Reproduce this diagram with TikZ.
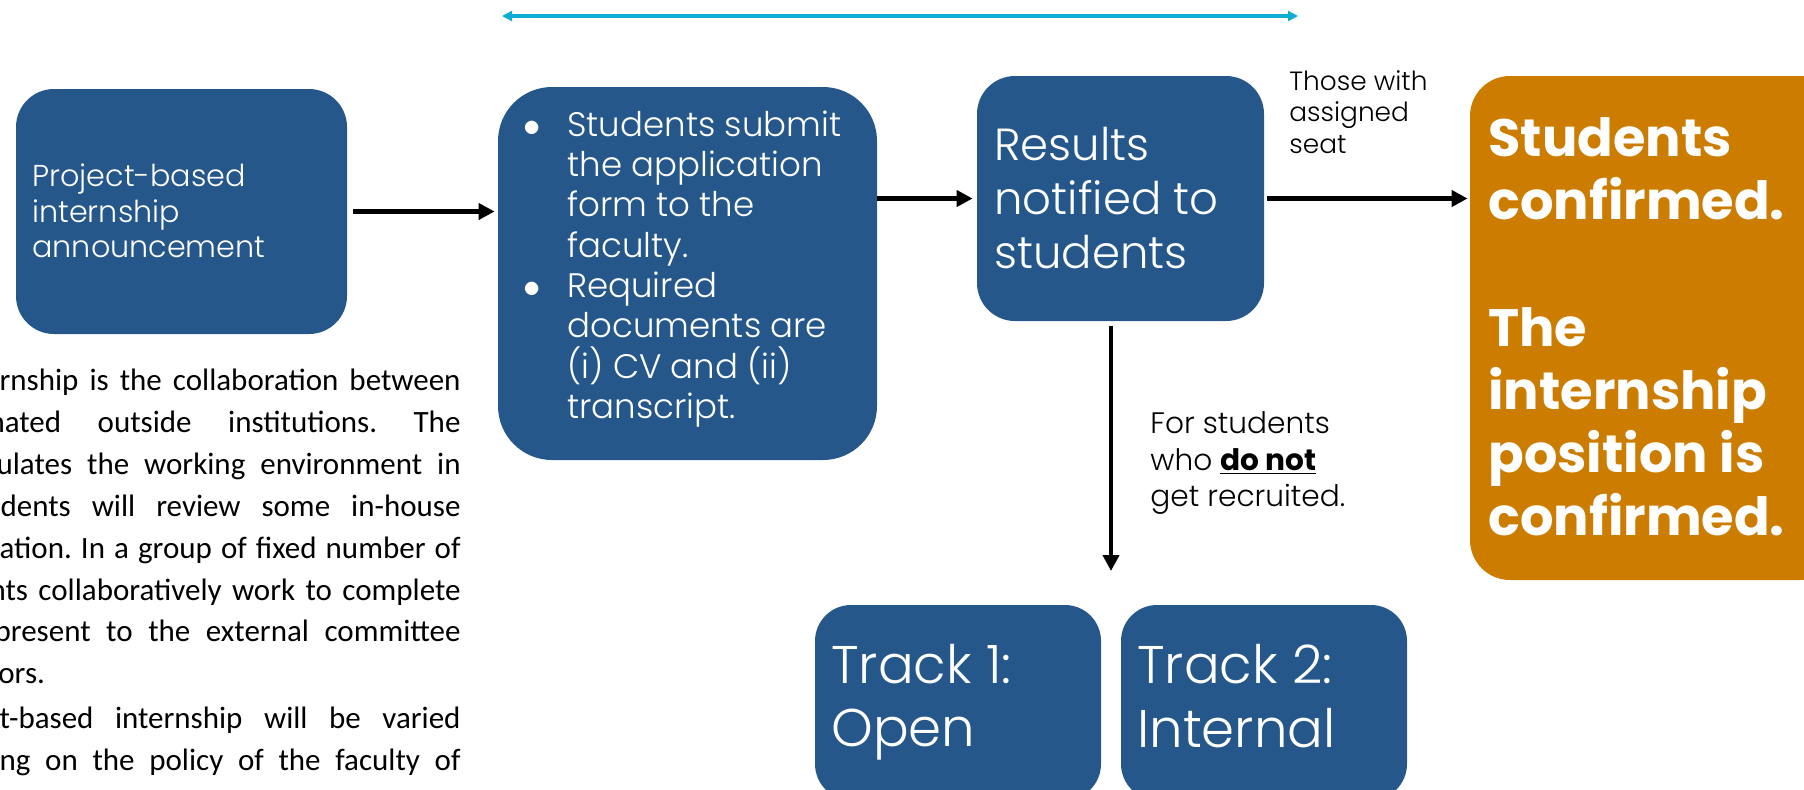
\documentclass[tikz,border=0pt]{standalone}
\usepackage{fontspec}
\setmainfont{Poppins}
\IfFontExistsTF{Poppins Light}{\newfontfamily\lightf{Poppins Light}}{\newfontfamily\lightf{Poppins}}
\newfontfamily\calf{Carlito}
\usetikzlibrary{arrows.meta,fit}
\definecolor{boxblue}{RGB}{37,87,139}
\definecolor{boxorange}{RGB}{204,125,0}
\definecolor{linecyan}{RGB}{14,174,212}
\frenchspacing
\begin{document}
\begin{tikzpicture}[x=0.5pt,y=-0.5pt,
  bluebox/.style={fill=boxblue, inner sep=0pt, draw=none},
  orangebox/.style={fill=boxorange, inner sep=0pt, draw=none},
  boxtext/.style={anchor=west, inner sep=0pt, align=left, text=white},
  flowarrow/.style={line width=2.1pt, -{Triangle[length=8pt,width=8pt]}},
  spanarrow/.style={draw=linecyan, line width=1.6pt, {Triangle[length=5pt,width=5pt]}-{Triangle[length=5pt,width=5pt]}},
  note/.style={anchor=west, inner sep=0pt, align=left, text=black},
  paraline/.style={inner sep=0pt, font=\calf\frenchspacing\fontsize{15.5}{21}\selectfont}
]
\useasboundingbox (0,0) rectangle (1804,789);

% boxes
\node[bluebox, rounded corners=19pt, fit={(16,89) (347,334)}] (b1) {};
\node[bluebox, rounded corners=27pt, fit={(498,87) (877,460)}] (b2) {};
\node[bluebox, rounded corners=19pt, fit={(977,76) (1264,321)}] (b3) {};
\node[orangebox, rounded corners=20pt, fit={(1470,76) (1840,580)}] (ob) {};
\node[bluebox, rounded corners=18pt, fit={(815,605) (1101,800)}] (k1) {};
\node[bluebox, rounded corners=18pt, fit={(1121,605) (1407,800)}] (k2) {};

% box texts
\node[boxtext, font=\lightf\fontsize{15.1}{17.85}\selectfont] (t1) at (32,211)
  {Project-based\\internship\\announcement};
\node[boxtext, font=\lightf\fontsize{17}{20.15}\selectfont] (t2) at (523,269)
  {\makebox[22pt][l]{$\bullet$}Students submit\\\hspace*{22pt}the application\\\hspace*{22pt}form to the\\\hspace*{22pt}faculty.\\
   \makebox[22pt][l]{$\bullet$}Required\\\hspace*{22pt}documents are\\\hspace*{22pt}(i) CV and (ii)\\\hspace*{22pt}transcript.};
\node[boxtext, font=\lightf\fontsize{22.5}{27}\selectfont] (t3) at (994,198)
  {Results\\notified to\\students};
\node[boxtext, font=\rmfamily\bfseries\fontsize{26.3}{31.6}\selectfont] (to) at (1488,327)
  {Students\\confirmed.\\\mbox{}\\The\\internship\\position is\\confirmed.};
\node[boxtext, font=\lightf\fontsize{26.5}{31.6}\selectfont] (tk1) at (831,702) {Track 1:\\Open};
\node[boxtext, font=\lightf\fontsize{26.5}{31.6}\selectfont] (tk2) at (1137,696) {Track 2:\\Internal};

% labels
\node[note, font=\lightf\fontsize{13.2}{15.8}\selectfont] (l3) at (1289,112)
  {Those with\\assigned\\seat};
\node[note, font=\lightf\fontsize{14.8}{18.1}\selectfont] (lv) at (1150,463)
  {For students\\who {\rmfamily\bfseries\underline{do not}}\\get recruited.};

% connectors
\coordinate (cl) at (502,16);
\coordinate (cr) at (1298,16);
\draw[spanarrow] (cl) -- (cr);
\draw[flowarrow, shorten <=3pt, shorten >=1.5pt] (b1.east) -- (b1.east -| b2.west);
\draw[flowarrow, shorten >=2pt] (b2.east |- b3.west) -- (b3.west);
\draw[flowarrow, shorten <=1.5pt, shorten >=1pt] (b3.east) -- (b3.east -| ob.west);
\coordinate (vend) at (1111,571);
\draw[flowarrow, shorten <=2.5pt] (vend |- b3.south) -- (vend);

% paragraph fragment
\node[paraline, anchor=base east] (p1) at (461,390) {\makebox[230.5pt][s]{rnship is the collaboration between}};
\node[paraline, anchor=base east] (p2) at (461,432.7) {\makebox[236pt][s]{nated outside institutions. The}};
\node[paraline, anchor=base east] (p3) at (461,474) {\makebox[232pt][s]{ulates the working environment in}};
\node[paraline, anchor=base east] (p4) at (461,516.7) {\makebox[230pt][s]{dents will review some in-house}};
\node[paraline, anchor=base east] (p5) at (461,558) {\makebox[230.5pt][s]{ation. In a group of fixed number of}};
\node[paraline, anchor=base east] (p6) at (461,600) {\makebox[235.5pt][s]{nts collaboratively work to complete}};
\node[paraline, anchor=base east] (p7) at (461,641.7) {\makebox[233pt][s]{present to the external committee}};
\node[paraline, anchor=base west] (p8) at (-2,683) {ors.};
\node[paraline, anchor=base east] (p9) at (461,728) {\makebox[230.5pt][s]{t-based internship will be varied}};
\node[paraline, anchor=base east] (p10) at (461,770) {\makebox[230.5pt][s]{ng on the policy of the faculty of}};
\end{tikzpicture}
\end{document}
